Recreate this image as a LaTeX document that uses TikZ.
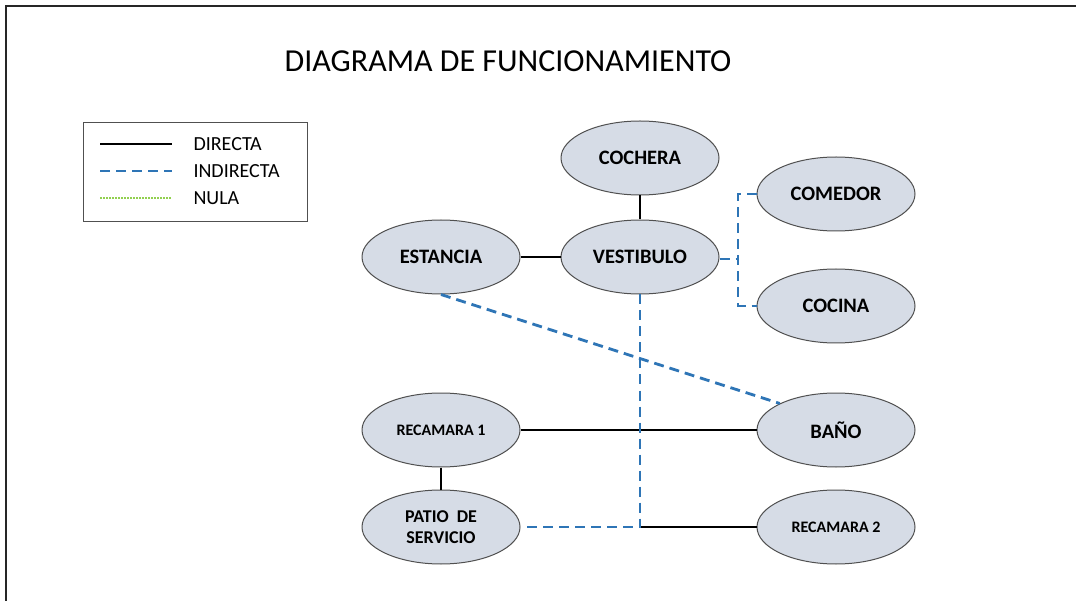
\documentclass[tikz,border=0pt]{standalone}
\usepackage{fontspec}
\setmainfont{Carlito}
\usepackage{xcolor}
\definecolor{relleno}{RGB}{214, 220, 230}
\definecolor{borde}{RGB}{80, 80, 80}
\definecolor{azul}{RGB}{46, 117, 182}
\definecolor{verde}{RGB}{146, 208, 80}
\usepackage{tikz}
\usetikzlibrary{shapes}
\tikzstyle{espacio} = [ellipse,draw=borde,line width=1pt,fill=relleno,minimum width=158pt,minimum height=74pt,inner sep=1pt,align=center,font=\bfseries\fontsize{20.5}{22}\selectfont]
\tikzstyle{chico} = [font=\bfseries\fontsize{16}{18}\selectfont]
\tikzstyle{directa} = [line width=2.8pt,draw=black]
\tikzstyle{indirecta} = [line width=2.8pt,draw=azul,dash pattern=on 10pt off 6pt]
\tikzstyle{nula} = [line width=2.8pt,draw=verde,dash pattern=on 1.5pt off 1.5pt]
\tikzstyle{leyenda} = [anchor=west,font=\fontsize{20}{22}\selectfont]

\begin{document}
\begin{tikzpicture}[x=1pt,y=-1pt]
    \useasboundingbox (0,0) rectangle (1076,601);
    \fill[white] (0,0) rectangle (1076,601);
    \draw[line width=1.5pt,draw=black!85] (6,601) -- (6,6) -- (1076,6);
    \node[font=\fontsize{32}{36}\selectfont] (titulo) at (508,61) {DIAGRAMA DE FUNCIONAMIENTO};

    \draw[line width=1pt,draw=borde] (83,123) rectangle (307,222);
    \coordinate (d1) at (100,144);
    \coordinate (d2) at (172,144);
    \coordinate (i1) at (100,171);
    \coordinate (i2) at (172,171);
    \coordinate (n1) at (100,198);
    \coordinate (n2) at (172,198);
    \path[directa] (d1) -- (d2);
    \path[indirecta] (i1) -- (i2);
    \path[nula] (n1) -- (n2);
    \node[leyenda] (ldirecta) at (190,144) {DIRECTA};
    \node[leyenda] (lindirecta) at (190,171) {INDIRECTA};
    \node[leyenda] (lnula) at (190,198) {NULA};

    \node[espacio] (cochera) at (640,158) {COCHERA};
    \node[espacio] (vestibulo) at (640,257) {VESTIBULO};
    \node[espacio] (estancia) at (441,257) {ESTANCIA};
    \node[espacio] (comedor) at (836,194) {COMEDOR};
    \node[espacio] (cocina) at (836,306) {COCINA};
    \node[espacio] (bano) at (836,430) {BAÑO};
    \node[espacio,chico] (recamara1) at (441,430) {RECAMARA 1};
    \node[espacio,font=\bfseries\fontsize{18}{21}\selectfont] (patio) at (441,527) {PATIO\ \ DE\\SERVICIO};
    \node[espacio,chico] (recamara2) at (836,527) {RECAMARA 2};

    \coordinate (rama) at (738,259);
    \coordinate (cruce) at (vestibulo |- patio);
    \path[directa] (estancia) -- (vestibulo);
    \path[directa] (cochera) -- (vestibulo);
    \path[directa] (recamara1.east) -- (bano.west);
    \path[directa] (recamara1) -- (patio);
    \path[directa] (cruce) -- (recamara2.west);
    \path[indirecta] (vestibulo.east |- rama) -- (rama);
    \path[indirecta] (comedor.west) -| (rama) |- (cocina.west);
    \path[indirecta] (estancia.south) -- (bano.north west);
    \path[indirecta] (vestibulo.south) -- (cruce) -- (patio.east);
\end{tikzpicture}
\end{document}
